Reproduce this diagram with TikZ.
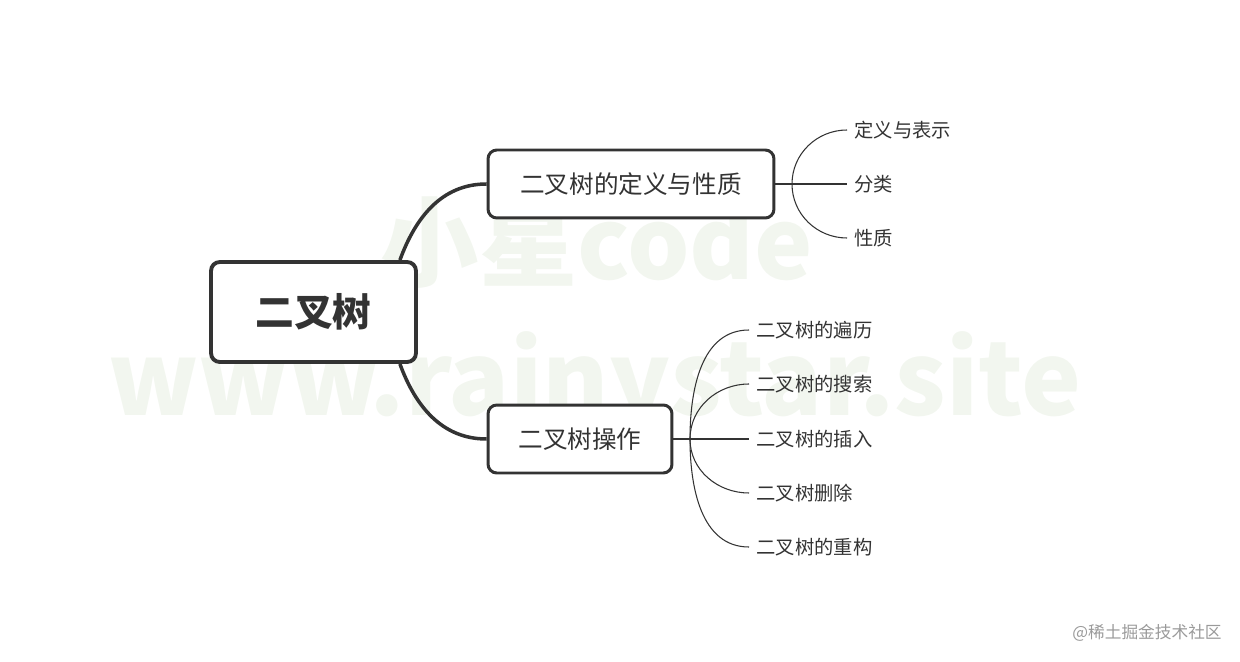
\documentclass[tikz,border=0pt]{standalone}
\usepackage{fontspec}
\setmainfont{Noto Sans CJK SC}
\usepackage{xcolor}
\usepackage{tikz}
\usetikzlibrary{positioning}
\definecolor{ink}{HTML}{333333}
\definecolor{mark}{HTML}{F2F6EF}
\definecolor{sign}{HTML}{9A9A9A}
\begin{document}
\begin{tikzpicture}[x=0.02cm,y=-0.02cm,
box/.style={draw=ink,line width=1.7pt,rounded corners=5pt,fill=white,inner sep=0pt,minimum height=1.36cm,text=ink,font=\fontsize{14}{16}\selectfont},
leaf/.style={anchor=west,inner sep=4pt,text=ink,font=\fontsize{11}{13}\selectfont},
limb/.style={draw=ink,line width=2pt},
twig/.style={draw=ink,line width=0.6pt}]
\useasboundingbox (0,0) rectangle (1240,662);
\node[text=mark,font=\bfseries\fontsize{56}{60}\selectfont] (logo) at (597,243) {小星code};
\node[text=mark,font=\bfseries\fontsize{57.5}{60}\selectfont] (site) at (595,385) {www.rainystar.site};
\node[anchor=east,inner sep=0pt,text=sign,font=\fontsize{9.5}{11}\selectfont] (juejin) at (1222,633) {@稀土掘金技术社区};
\node[box,line width=2.2pt,minimum width=4.1cm,minimum height=2cm,font=\bfseries\fontsize{22}{26}\selectfont] (root) at (313.5,312) {二叉树};
\node[box,minimum width=5.72cm] (def) at (631,184) {二叉树的定义与性质};
\node[box,minimum width=3.68cm] (op) at (580,439) {二叉树操作};
\coordinate (defjoint) at (792,184);
\coordinate (opjoint) at (690,439);
\node[leaf] (repr) at (847,130) {定义与表示};
\node[leaf] (kind) at (847,184) {分类};
\node[leaf] (prop) at (847,238) {性质};
\node[leaf] (trav) at (749,330) {二叉树的遍历};
\node[leaf] (find) at (749,384) {二叉树的搜索};
\node[leaf] (ins) at (749,439) {二叉树的插入};
\node[leaf] (del) at (749,493) {二叉树删除};
\node[leaf] (build) at (749,547) {二叉树的重构};
\draw[limb] (root.31.5) to[out=70,in=180] (def.west);
\draw[limb] (root.-31.5) to[out=-70,in=180] (op.west);
\draw[twig] (def.east)--(defjoint);
\draw[twig] (defjoint) to[out=90,in=180] (repr.west);
\draw[twig] (defjoint)--(kind.west);
\draw[twig] (defjoint) to[out=-90,in=180] (prop.west);
\draw[twig] (op.east)--(opjoint);
\draw[twig] (opjoint) to[out=90,in=180] (trav.west);
\draw[twig] (opjoint) to[out=90,in=180] (find.west);
\draw[twig] (opjoint)--(ins.west);
\draw[twig] (opjoint) to[out=-90,in=180] (del.west);
\draw[twig] (opjoint) to[out=-90,in=180] (build.west);
\end{tikzpicture}
\end{document}
